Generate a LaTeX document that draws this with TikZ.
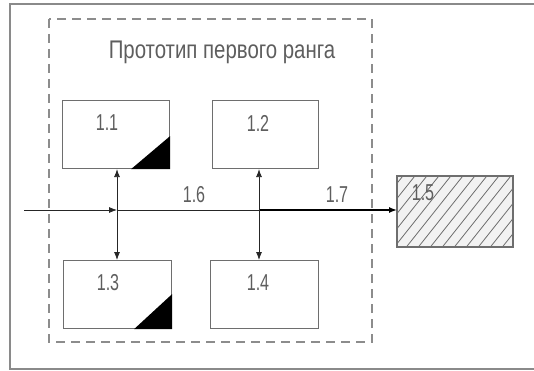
\documentclass[tikz,border=0pt]{standalone}
\usepackage{fontspec}
\setmainfont{Liberation Sans}[FakeStretch=0.8]
\newfontfamily\numfont{Liberation Sans}[FakeStretch=0.7]
\usetikzlibrary{arrows.meta,calc}
\definecolor{framegray}{HTML}{8A8A8A}
\definecolor{boxgray}{HTML}{6E6E6E}
\definecolor{textgray}{HTML}{5E5E5E}
\definecolor{dashgray}{HTML}{8C8C8C}
\definecolor{hatchfill}{HTML}{F2F2F2}
\tikzset{
  unitbox/.style={draw=boxgray, line width=1.1pt, inner sep=0pt, anchor=north west,
    minimum width=#1, minimum height=68pt},
  numlabel/.style={text=textgray, font=\numfont\fontsize{23}{23}\selectfont, inner sep=0pt},
  link/.style={line width=0.8pt, draw=black!85},
  tip/.style={-{Latex[length=8pt,width=6pt]}},
  bitip/.style={{Latex[length=8pt,width=6pt]}-{Latex[length=8pt,width=6pt]}},
  hatch/.style={draw=boxgray, line width=0.8pt},
  corner/.style={fill=black},
}
\begin{document}
\begin{tikzpicture}[x=1pt, y=-1pt]
  \useasboundingbox (0,0) rectangle (534,371);
  \clip (0,0) rectangle (534,371);

  % outer frame (right side runs past the sheet edge)
  \draw[framegray, line width=1.1pt] (10,4) rectangle (560,369);

  % dashed group boundary
  \draw[dashgray, line width=1.1pt, dash pattern=on 9pt off 6pt] (49,19) rectangle (372,342);
  \node[text=textgray, font=\fontsize{25.5}{25.5}\selectfont, inner sep=0pt] (title) at (222,52)
    {Прототип первого ранга};

  % component blocks
  \node[unitbox=107pt] (b11) at (62,100) {};
  \node[unitbox=106pt] (b12) at (212,100) {};
  \node[unitbox=108pt] (b13) at (63,260) {};
  \node[unitbox=108pt] (b14) at (210,260) {};
  \node[unitbox=115pt, minimum height=70pt, fill=hatchfill] (b15) at (397,176) {};

  % hatching of block 1.5
  \begin{scope}
    \clip (b15.south west) rectangle (b15.north east);
    \foreach \x in {320,332,...,520}
      \draw[hatch] (\x,250) -- ++(62,-78);
  \end{scope}
  \draw[boxgray, line width=1.1pt] (b15.south west) rectangle (b15.north east);

  % filled corner markers
  \fill[corner] ($(b11.south east)+(-39,0)$) -- (b11.south east) -- ($(b11.south east)+(0,-33)$) -- cycle;
  \fill[corner] ($(b13.south east)+(-38,0)$) -- (b13.south east) -- ($(b13.south east)+(0,-35)$) -- cycle;

  % block labels
  \node[numlabel] (l11) at (107,123) {1.1};
  \node[numlabel] (l12) at (258,123) {1.2};
  \node[numlabel] (l13) at (108,283) {1.3};
  \node[numlabel] (l14) at (258,283) {1.4};
  \node[numlabel] (l15) at (423,193) {1.5};
  \node[numlabel] (l16) at (194,195) {1.6};
  \node[numlabel] (l17) at (337,195) {1.7};

  % signal path
  \coordinate (src) at (24,210);
  \coordinate (j1) at (117,210);
  \coordinate (j2) at (259,210);
  \draw[link, tip] (src) -- (j1);
  \draw[link] (j1) -- (j2);
  \draw[link, line width=1.4pt, draw=black, tip] (j2) -- (b15.west |- j2);

  % bidirectional links between the block rows
  \draw[link, bitip] (j1 |- b11.south) -- (j1 |- b13.north);
  \draw[link, bitip] (j2 |- b12.south) -- (j2 |- b14.north);
\end{tikzpicture}
\end{document}
